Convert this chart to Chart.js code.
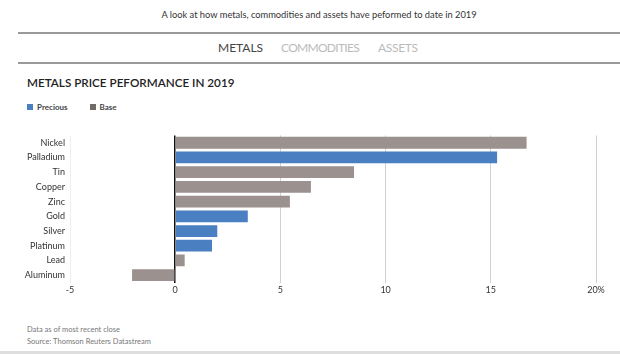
<!DOCTYPE html>
<html>
<head>
<meta charset="utf-8">
<script src="https://cdn.jsdelivr.net/npm/chart.js@4"></script>
<style>
  html, body { margin:0; padding:0; background:#fff; }
  body { width:620px; height:355px; position:relative; overflow:hidden; font-family: Lato, "Open Sans", sans-serif; }
  .abs { position:absolute; white-space:nowrap; }
  #sub { left:0; width:638px; text-align:center; top:9px; font-size:9.3px; color:#333; }
  .hr { position:absolute; left:18px; right:0; height:2px; background:#9a9a9a; }
  .tab { position:absolute; top:40px; font-size:12px; white-space:nowrap; }
  #title { left:27px; top:75px; font-size:11.7px; font-weight:600; color:#222; }
  #legend { left:27px; top:102px; font-size:8px; font-weight:700; color:#444; }
  #legend i { display:inline-block; width:6px; height:6px; margin-right:4px; vertical-align:0px; }
  .foot { left:27px; font-size:7.5px; color:#777; }
  #bottom { position:absolute; left:0; right:0; top:351px; height:3px; background:#dedede; }
  #wrap { position:absolute; left:0; top:125px; width:620px; height:175px; }
</style>
</head>
<body>
<div id="sub" class="abs">A look at how metals, commodities and assets have peformed to date in 2019</div>
<div class="hr" style="top:32px"></div>
<div class="tab" style="left:218px;color:#444">METALS</div>
<div class="tab" style="left:281px;color:#bbb;letter-spacing:-0.7px">COMMODITIES</div>
<div class="tab" style="left:378px;color:#bbb;letter-spacing:-0.3px">ASSETS</div>
<div class="hr" style="top:62px"></div>
<div id="title" class="abs">METALS PRICE PEFORMANCE IN 2019</div>
<div id="legend" class="abs"><i style="background:#4a7fc1"></i>Precious<span style="display:inline-block;width:22px"></span><i style="background:#706a68"></i>Base</div>
<div id="wrap"><canvas id="c"></canvas></div>
<div class="abs foot" style="top:325px">Data as of most recent close</div>
<div class="abs foot" style="top:337px">Source: Thomson Reuters Datastream</div>
<div id="bottom"></div>
<script>
const categories = ["Nickel","Palladium","Tin","Copper","Zinc","Gold","Silver","Platinum","Lead","Aluminum"];
const groups =     ["Base","Precious","Base","Base","Base","Precious","Precious","Precious","Base","Base"];
const values =     [16.7, 15.3, 8.5, 6.45, 5.45, 3.45, 2.0, 1.75, 0.45, -2.05];
const xTicks = [-5, 0, 5, 10, 15, 20];

const preciousValues = values.map((v, i) => groups[i] === "Precious" ? v : null);
const baseValues = values.map((v, i) => groups[i] === "Base" ? v : null);

new Chart(document.getElementById('c'), {
  type: 'bar',
  data: {
    labels: categories,
    datasets: [
      { label: 'Precious', data: preciousValues, backgroundColor: '#4a7fc1' },
      { label: 'Base', data: baseValues, backgroundColor: '#9b918e' }
    ]
  },
  options: {
    indexAxis: 'y',
    responsive: true,
    maintainAspectRatio: false,
    animation: false,
    layout: { padding: { top: 7.5, right: 24, left: 0, bottom: 0 } },
    datasets: { bar: { categoryPercentage: 1, barPercentage: 0.8 } },
    plugins: { legend: { display: false }, tooltip: { enabled: false } },
    scales: {
      x: {
        stacked: true,
        min: -5, max: 20,
        afterBuildTicks: (s) => { s.ticks = xTicks.map(v => ({ value: v })); },
        afterFit: (s) => { s.height = 17.5; },
        border: { display: false },
        grid: {
          drawTicks: false,
          color: (ctx) => ctx.tick && ctx.tick.value === 0 ? '#111' : (ctx.tick && ctx.tick.value === -5 ? '#eeeeee' : '#d0d0d0'),
          lineWidth: (ctx) => ctx.tick && ctx.tick.value === 0 ? 1.5 : 1
        },
        ticks: {
          padding: 2,
          color: '#333',
          font: { family: 'Lato', size: 9 },
          callback: (v) => v === 20 ? '20%' : String(v)
        }
      },
      y: {
        stacked: true,
        afterFit: (s) => { s.width = 70; },
        border: { display: false },
        grid: { display: false, drawTicks: false },
        ticks: { padding: 5, color: '#333', font: { family: 'Lato', size: 9 } }
      }
    }
  }
});
</script>
</body>
</html>
